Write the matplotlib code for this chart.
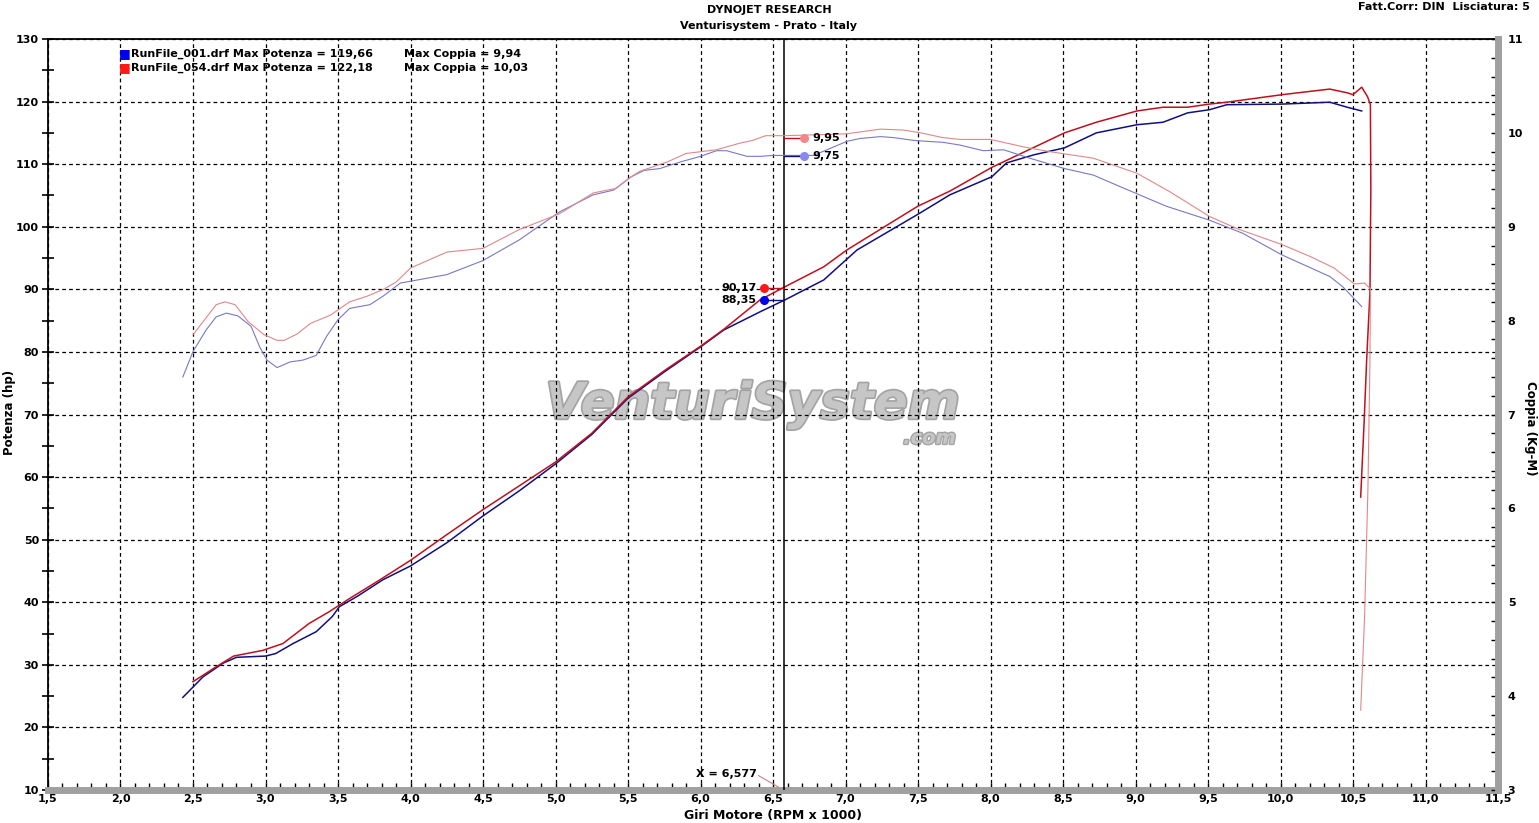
import matplotlib
matplotlib.use('Agg')
import matplotlib.pyplot as plt
import matplotlib.patheffects as pe
from matplotlib.ticker import MultipleLocator, FuncFormatter

plt.rcParams['font.family'] = ['DejaVu Sans']
plt.rcParams['font.weight'] = 'bold'

# --- dati (rpm x 1000) ---
rpm_pow_001 = [2.43, 2.57, 2.71, 2.80, 3.00, 3.07, 3.19, 3.35, 3.46, 3.51, 3.63, 3.81, 4.00,
               4.25, 4.50, 4.75, 5.00, 5.25, 5.50, 5.75, 6.00, 6.16, 6.41, 6.59, 6.85, 7.08,
               7.50, 7.72, 8.01, 8.11, 8.30, 8.51, 8.73, 9.01, 9.19, 9.36, 9.51, 9.63, 10.01,
               10.34, 10.46, 10.56]
hp_001 = [24.8, 28.1, 30.3, 31.2, 31.4, 31.8, 33.4, 35.3, 37.7, 39.3, 40.9, 43.6, 45.8,
          49.5, 53.8, 57.8, 62.1, 66.8, 72.6, 76.8, 80.8, 83.5, 86.4, 88.4, 91.5, 96.3,
          102.0, 105.1, 108.0, 110.2, 111.5, 112.6, 115.0, 116.3, 116.7, 118.2, 118.7, 119.5, 119.6,
          119.9, 119.1, 118.5]

rpm_pow_054 = [2.50, 2.64, 2.78, 2.98, 3.12, 3.30, 3.44, 3.58, 3.79, 4.00, 4.25, 4.50, 4.75,
               5.00, 5.25, 5.50, 5.75, 6.00, 6.16, 6.41, 6.59, 6.85, 7.01, 7.50, 7.72, 8.01,
               8.51, 8.73, 9.01, 9.19, 9.36, 9.51, 9.63, 10.01, 10.34, 10.46, 10.50, 10.56,
               10.60, 10.62, 10.623, 10.617, 10.594, 10.576, 10.553]
hp_054 = [27.3, 29.4, 31.4, 32.3, 33.4, 36.6, 38.5, 40.6, 43.6, 46.7, 50.8, 54.8, 58.6,
          62.4, 67.0, 72.8, 77.0, 80.9, 83.6, 88.3, 90.5, 93.6, 96.3, 103.3, 105.7, 109.5,
          115.0, 116.7, 118.5, 119.1, 119.1, 119.6, 119.9, 121.1, 122.0, 121.4, 121.1, 122.3,
          120.8, 119.5, 105.9, 89.6, 78.6, 68.4, 56.8]

rpm_tq_001 = [2.43, 2.50, 2.59, 2.66, 2.73, 2.81, 2.90, 2.96, 3.01, 3.08, 3.17, 3.26, 3.35,
              3.42, 3.50, 3.58, 3.72, 3.81, 3.93, 4.25, 4.50, 4.75, 5.03, 5.26, 5.40, 5.52,
              5.61, 5.72, 5.86, 6.00, 6.11, 6.18, 6.32, 6.41, 6.50, 6.58, 6.78, 7.01, 7.10,
              7.24, 7.33, 7.47, 7.56, 7.67, 7.79, 7.95, 8.09, 8.25, 8.51, 8.71, 8.89, 9.21,
              9.51, 9.74, 10.01, 10.34, 10.43, 10.56]
tq_001 = [7.40, 7.67, 7.90, 8.04, 8.08, 8.05, 7.94, 7.72, 7.58, 7.50, 7.56, 7.58, 7.63,
          7.83, 8.01, 8.13, 8.17, 8.26, 8.40, 8.49, 8.64, 8.86, 9.16, 9.34, 9.39, 9.53,
          9.60, 9.62, 9.69, 9.75, 9.81, 9.81, 9.75, 9.75, 9.76, 9.76, 9.76, 9.91, 9.94,
          9.96, 9.95, 9.92, 9.91, 9.90, 9.87, 9.81, 9.82, 9.74, 9.62, 9.55, 9.43, 9.22,
          9.07, 8.93, 8.70, 8.47, 8.36, 8.15]

rpm_tq_054 = [2.50, 2.58, 2.66, 2.72, 2.79, 2.88, 2.99, 3.08, 3.13, 3.22, 3.31, 3.45, 3.58,
              3.70, 3.81, 3.90, 4.00, 4.25, 4.50, 4.75, 5.03, 5.26, 5.42, 5.51, 5.58, 5.77,
              5.90, 5.95, 6.11, 6.27, 6.36, 6.45, 6.58, 7.01, 7.10, 7.24, 7.40, 7.52, 7.67,
              7.79, 8.00, 8.23, 8.41, 8.71, 9.01, 9.24, 9.51, 9.70, 10.01, 10.21, 10.37,
              10.51, 10.58, 10.62, 10.617, 10.603, 10.58, 10.553]
tq_054 = [7.85, 8.01, 8.17, 8.20, 8.17, 7.99, 7.85, 7.79, 7.79, 7.86, 7.97, 8.06, 8.20,
          8.26, 8.33, 8.41, 8.56, 8.73, 8.77, 8.97, 9.14, 9.36, 9.41, 9.52, 9.59, 9.69,
          9.78, 9.79, 9.82, 9.89, 9.92, 9.97, 9.97, 9.99, 10.01, 10.04, 10.03, 10.00, 9.95,
          9.93, 9.93, 9.85, 9.80, 9.73, 9.57, 9.37, 9.11, 8.98, 8.81, 8.68, 8.56,
          8.39, 8.40, 8.34, 7.57, 6.21, 4.85, 3.85]

run_names = ['RunFile_001.drf', 'RunFile_054.drf']
max_hp = [119.66, 122.18]
max_tq = [9.94, 10.03]

cursor_rpm = 6.577
cursor_hp = [88.35, 90.17]
cursor_tq = [9.75, 9.95]
hp_marker_rpm = 6.438
tq_marker_rpm = 6.714


def virgola(v, dec=2):
    return f"{v:.{dec}f}".replace('.', ',')


# colori
c_pow = ['#101080', '#c0101e']
c_tq = ['#7878c8', '#e08888']
c_dot_pow = ['#0000e8', '#ff1818']
c_dot_tq = ['#8888f0', '#f08888']

fig = plt.figure(figsize=(15.39, 8.23), dpi=100)
ax = fig.add_axes([48 / 1539, 1 - 790 / 823, 1450 / 1539, 751 / 823])
ax2 = ax.twinx()

ax.set_xlim(1.5, 11.5)
ax.set_ylim(10, 130)
ax2.set_ylim(3, 11)

# griglia tratteggiata
ax.xaxis.set_major_locator(MultipleLocator(0.5))
ax.xaxis.set_minor_locator(MultipleLocator(0.1))
ax.yaxis.set_major_locator(MultipleLocator(10))
ax.yaxis.set_minor_locator(MultipleLocator(5))
ax2.yaxis.set_major_locator(MultipleLocator(1))
ax2.yaxis.set_minor_locator(MultipleLocator(0.2))
ax.grid(True, which='major', color='black', linestyle=(0, (3, 2.5)), linewidth=0.9)
ax.set_axisbelow(True)

ax.xaxis.set_major_formatter(FuncFormatter(lambda v, p: virgola(v, 1)))

# cornice
ax.spines['left'].set_color('black')
ax.spines['left'].set_linewidth(1.3)
ax.spines['top'].set_color('black')
ax.spines['top'].set_linewidth(1.3)
ax.spines['bottom'].set_color('#a0a0a0')
ax.spines['bottom'].set_linewidth(5)
ax.spines['right'].set_visible(False)
ax2.spines['right'].set_color('#a0a0a0')
ax2.spines['right'].set_linewidth(5)
for s in ['left', 'top', 'bottom']:
    ax2.spines[s].set_visible(False)

ax.tick_params(axis='y', which='both', direction='inout', length=9, width=1.2,
               labelsize=8, pad=2)
ax.tick_params(axis='x', which='both', direction='in', length=5, width=1.0,
               labelsize=8, pad=3)
ax2.tick_params(axis='y', which='both', direction='in', length=5, width=1.0,
                labelsize=8, pad=7)

# watermark
wm = ax.text(6.36, 71.6, 'VenturiSystem', fontsize=36, fontstyle='italic', fontweight='bold',
             color='#c6c6c6', ha='center', va='center', zorder=0.5)
wm.set_path_effects([pe.withStroke(linewidth=2.5, foreground='#a4a4a4')])
wm2 = ax.text(7.58, 66.2, '.com', fontsize=14, fontstyle='italic', fontweight='bold',
              color='#c6c6c6', ha='center', va='center', zorder=0.5)
wm2.set_path_effects([pe.withStroke(linewidth=2, foreground='#a4a4a4')])

# curve di potenza
ax.plot(rpm_pow_001, hp_001, color=c_pow[0], lw=1.1, zorder=3)
ax.plot(rpm_pow_054, hp_054, color=c_pow[1], lw=1.1, zorder=3)
# curve di coppia
ax2.plot(rpm_tq_001, tq_001, color=c_tq[0], lw=0.8, zorder=2)
ax2.plot(rpm_tq_054, tq_054, color=c_tq[1], lw=0.8, zorder=2)

# cursore
ax.axvline(cursor_rpm, color='black', lw=1.1, zorder=4)
for i in range(2):
    ax.plot([hp_marker_rpm, cursor_rpm], [cursor_hp[i], cursor_hp[i]], color=c_pow[i], lw=1, zorder=4)
    ax.plot(hp_marker_rpm, cursor_hp[i], 'o', color=c_dot_pow[i], ms=5.5, zorder=5)
    ax.text(hp_marker_rpm - 0.05, cursor_hp[i], virgola(cursor_hp[i]), fontsize=8,
            ha='right', va='center', zorder=5)
    ax2.plot([cursor_rpm, tq_marker_rpm], [cursor_tq[i], cursor_tq[i]], color=c_pow[i], lw=1, zorder=4)
    ax2.plot(tq_marker_rpm, cursor_tq[i], 'o', color=c_dot_tq[i], ms=5.5, zorder=5)
    ax2.text(tq_marker_rpm + 0.06, cursor_tq[i], virgola(cursor_tq[i]), fontsize=8,
             ha='left', va='center', zorder=5)

ax.text(6.18, 12.5, 'X = ' + virgola(cursor_rpm, 3), fontsize=8, ha='center', va='center')
ax.plot([6.40, 6.565], [12.3, 10.1], color='#d08080', lw=0.8, clip_on=False)

# legenda
leg_y = [1 - 54 / 823, 1 - 68 / 823]
for i in range(2):
    fig.text(119 / 1539, leg_y[i], '\u25A0', fontsize=9, color=c_dot_pow[i], va='center', ha='left')
    fig.text(131 / 1539, leg_y[i], f"{run_names[i]} Max Potenza = {virgola(max_hp[i])}",
             fontsize=8, va='center', ha='left')
    fig.text(404 / 1539, leg_y[i], f"Max Coppia = {virgola(max_tq[i])}",
             fontsize=8, va='center', ha='left')

# titoli
fig.text(769 / 1539, 1 - 10 / 823, 'DYNOJET RESEARCH', fontsize=8, ha='center', va='center')
fig.text(769 / 1539, 1 - 26 / 823, 'Venturisystem - Prato - Italy', fontsize=8, ha='center', va='center')
fig.text(1530 / 1539, 1 - 7 / 823, 'Fatt.Corr: DIN  Lisciatura: 5', fontsize=8, ha='right', va='center')

fig.text(10 / 1539, 1 - 412 / 823, 'Potenza (hp)', fontsize=8.5, rotation=90, ha='center', va='center')
fig.text(1530 / 1539, 1 - 428 / 823, 'Coppia (Kg-M)', fontsize=8.5, rotation=270, ha='center', va='center')
fig.text(773 / 1539, 1 - 815 / 823, 'Giri Motore (RPM x 1000)', fontsize=9, ha='center', va='center')

fig.savefig('out.png', dpi=100)
